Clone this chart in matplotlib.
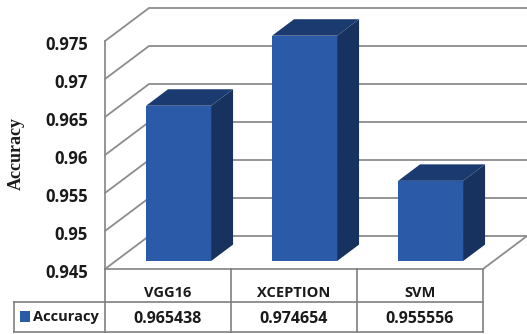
import matplotlib.pyplot as plt
from matplotlib.patches import Polygon, Rectangle

categories = ['VGG16', 'XCEPTION', 'SVM']
accuracy = [0.965438, 0.974654, 0.955556]
value_labels = ['0.965438', '0.974654', '0.955556']
y_ticks = [0.945, 0.95, 0.955, 0.96, 0.965, 0.97, 0.975]
y_tick_labels = ['0.945', '0.95', '0.955', '0.96', '0.965', '0.97', '0.975']

W, H = 527, 334
FRONT = '#2b5ba8'
SIDE = '#17325f'
TOP = '#1b3b70'
GRID = '#8c8c8c'
TABLE = '#7f7f7f'
TEXT = '#1a1a1a'
FONT = 'Open Sans'

# plot box in pixels
X0, X1 = 105, 483
Y0, Y1 = 269, 41
DX, DY = 44, -33   # depth of the box
BAR_W = 65 / 126
BAR_T0, BAR_T1 = 0.24, 0.74  # where the bars sit in the depth


fig = plt.figure(figsize=(W / 100, H / 100), dpi=100)
ax = fig.add_axes([0, 0, 1, 1])
ax.set_xlim(0, W)
ax.set_ylim(H, 0)
ax.axis('off')


def px(cat, val, depth=0.0):
    # oblique projection: category position, value and depth to pixels
    x = X0 + cat * (X1 - X0) / len(categories) + depth * DX
    y = Y0 + (val - y_ticks[0]) / (y_ticks[-1] - y_ticks[0]) * (Y1 - Y0) + depth * DY
    return x, y


# walls and floor
ncat = len(categories)
for v in y_ticks:
    ax.plot(*zip(px(0, v), px(0, v, 1), (W, px(0, v, 1)[1])), color=GRID, lw=1.3, zorder=1)
ax.plot(*zip(px(0, y_ticks[0]), px(0, y_ticks[-1])), color=GRID, lw=1.3, zorder=1)
ax.plot(*zip(px(0, y_ticks[0]), px(ncat, y_ticks[0]), px(ncat, y_ticks[0], 1)), color=GRID, lw=1.3, zorder=1)

# bars
for i, val in enumerate(accuracy):
    left = i + 0.5 - BAR_W / 2
    right = i + 0.5 + BAR_W / 2
    base = y_ticks[0]
    ax.add_patch(Polygon([px(right, base, BAR_T0), px(right, val, BAR_T0),
                          px(right, val, BAR_T1), px(right, base, BAR_T1)],
                         fc=SIDE, ec='none', zorder=3))
    ax.add_patch(Polygon([px(left, val, BAR_T0), px(right, val, BAR_T0),
                          px(right, val, BAR_T1), px(left, val, BAR_T1)],
                         fc=TOP, ec='none', zorder=3))
    ax.add_patch(Polygon([px(left, base, BAR_T0), px(right, base, BAR_T0),
                          px(right, val, BAR_T0), px(left, val, BAR_T0)],
                         fc=FRONT, ec='none', zorder=4))

# y axis labels
for v, lab in zip(y_ticks, y_tick_labels):
    ax.text(88, px(0, v)[1] + 3.5, lab, ha='right', va='center', fontsize=12,
            fontweight='bold', family=FONT, color=TEXT)
ax.text(16.5, 154, 'Accuracy', rotation=90, ha='center', va='center', fontsize=13,
        fontweight='bold', family='Liberation Serif', color=TEXT)

# data table under the plot
TABLE_L, TABLE_M, TABLE_B = 14, 302, 332
for i in range(ncat + 1):
    ax.plot([px(i, 0.945)[0]] * 2, [Y0, TABLE_B], color=TABLE, lw=1.2, zorder=1)
ax.plot([TABLE_L, X1], [TABLE_M, TABLE_M], color=TABLE, lw=1.2, zorder=1)
ax.plot([TABLE_L, X1], [TABLE_B, TABLE_B], color=TABLE, lw=1.2, zorder=1)
ax.plot([TABLE_L, TABLE_L], [TABLE_M, TABLE_B], color=TABLE, lw=1.2, zorder=1)

for i, (cat, lab) in enumerate(zip(categories, value_labels)):
    cx = px(i + 0.5, 0.945)[0]
    ax.text(cx, 293, cat, ha='center', va='center', fontsize=10.5, fontweight='bold',
            family=FONT, color=TEXT)
    ax.text(cx, 319, lab, ha='center', va='center', fontsize=11.5, fontweight='bold',
            family=FONT, color=TEXT)

ax.add_patch(Rectangle((20, 311), 9.5, 10.5, fc=FRONT, ec='none'))
ax.text(33, 317, 'Accuracy', ha='left', va='center', fontsize=10.5, fontweight='bold',
        family=FONT, color=TEXT)

fig.savefig('out.png', dpi=100)
